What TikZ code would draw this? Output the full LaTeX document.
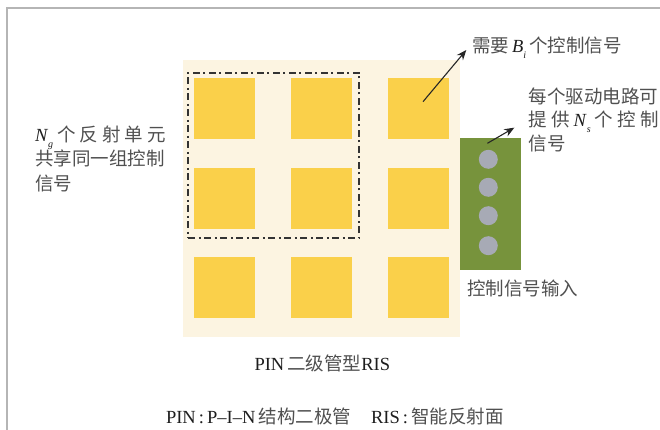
\documentclass[tikz,border=0pt]{standalone}
\usepackage{fontspec}
\setmainfont{Liberation Serif}
\newfontfamily\cjk{Noto Sans CJK SC}
\usetikzlibrary{arrows.meta}
\definecolor{bgbeige}{HTML}{FCF4E1}
\definecolor{patch}{HTML}{FAD04A}
\definecolor{board}{HTML}{77933C}
\definecolor{pinc}{HTML}{A7AAB5}
\definecolor{framegray}{HTML}{B5B5B5}
\definecolor{txtgray}{HTML}{505050}
\definecolor{latin}{HTML}{1E1E1E}
\newcommand\risvar[2]{{\color{latin}\textit{#1}\raisebox{-0.3em}{\fontsize{10}{10}\selectfont\textit{#2}}}}
\newcommand\lat[1]{{\color{latin}#1}}
\begin{document}
\begin{tikzpicture}[x=1pt,y=-1pt,
  lbl/.style={anchor=base west, inner sep=0pt, outer sep=0pt, font=\fontsize{18.5}{22}\selectfont, text=txtgray},
  cell/.style={fill=patch, minimum size=61pt, inner sep=0pt, draw=none},
  pindot/.style={circle, fill=pinc, minimum size=19pt, inner sep=0pt},
  arr/.style={line width=1.1pt, draw=black!85, -{Stealth[length=10pt,width=8pt]}}]

\useasboundingbox (0,0) rectangle (660,430);
\fill[white] (0,0) rectangle (660,430);
\draw[framegray, line width=1.2pt] (660,8) -- (7,8) -- (7,430);

% RIS background
\node[fill=bgbeige, minimum width=276.3pt, minimum height=277pt, inner sep=0pt, anchor=north west] (ris) at (183,60) {};

% patches
\node[cell] (c11) at (224.8,108.4) {};
\node[cell] (c12) at (321.4,108.4) {};
\node[cell] (c13) at (418.2,108.4) {};
\node[cell] (c21) at (224.8,198.4) {};
\node[cell] (c22) at (321.4,198.4) {};
\node[cell] (c23) at (418.2,198.4) {};
\node[cell] (c31) at (224.8,287.2) {};
\node[cell] (c32) at (321.4,287.2) {};
\node[cell] (c33) at (418.2,287.2) {};

% group frame
\node[draw=black!80, line width=2pt, dash pattern=on 7pt off 3.5pt on 2pt off 3.5pt,
      minimum width=171pt, minimum height=165.3pt, inner sep=0pt, anchor=north west] (grp) at (187.3,71.7) {};

% driver board
\node[fill=board, minimum width=61.4pt, minimum height=131pt, inner sep=0pt, anchor=north west] (drv) at (459.3,138.3) {};
\node[pindot] (p1) at (488.3,159.3) {};
\node[pindot] (p2) at (488.3,187.3) {};
\node[pindot] (p3) at (488.3,215.7) {};
\node[pindot] (p4) at (488.3,245.7) {};

% arrows
\coordinate (a1s) at (423,101.7);
\coordinate (a1e) at (466.3,50);
\draw[arr] (a1s) -- (a1e);
\coordinate (a2s) at (487.4,143.3);
\coordinate (a2e) at (514.3,127.7);
\draw[arr] (a2s) -- (a2e);

% labels
\node[lbl] (need) at (472,53) {{\cjk 需要}\,\risvar{B}{i}\,{\cjk 个控制信号}};

\node[lbl] (r1) at (528.5,103.7) {\cjk 每个驱动电路可};
\node[lbl] (r2) at (528.5,127) {\makebox[130pt][s]{{\cjk 提}\hfill{\cjk 供}\hfill\risvar{N}{s}\hfill{\cjk 个}\hfill{\cjk 控}\hfill{\cjk 制}}};
\node[lbl] (r3) at (528.5,150.3) {\cjk 信号};

\node[lbl] (l1) at (35,142) {\makebox[131pt][s]{\risvar{N}{g}\hfill{\cjk 个}\hfill{\cjk 反}\hfill{\cjk 射}\hfill{\cjk 单}\hfill{\cjk 元}}};
\node[lbl] (l2) at (35,165.3) {\cjk 共享同一组控制};
\node[lbl] (l3) at (35,190.3) {\cjk 信号};

\node[lbl] (inp) at (467,295) {\cjk 控制信号输入};

\node[lbl] (title) at (254.5,370.5) {\lat{PIN}\,{\cjk 二级管型}\lat{RIS}};

\node[lbl] (legend) at (166,423) {\lat{PIN\thinspace:\thinspace P–I–N}\,{\cjk 结构二极管}\hspace{20pt}\lat{RIS\thinspace:\thinspace}{\cjk 智能反射面}};
\end{tikzpicture}
\end{document}
